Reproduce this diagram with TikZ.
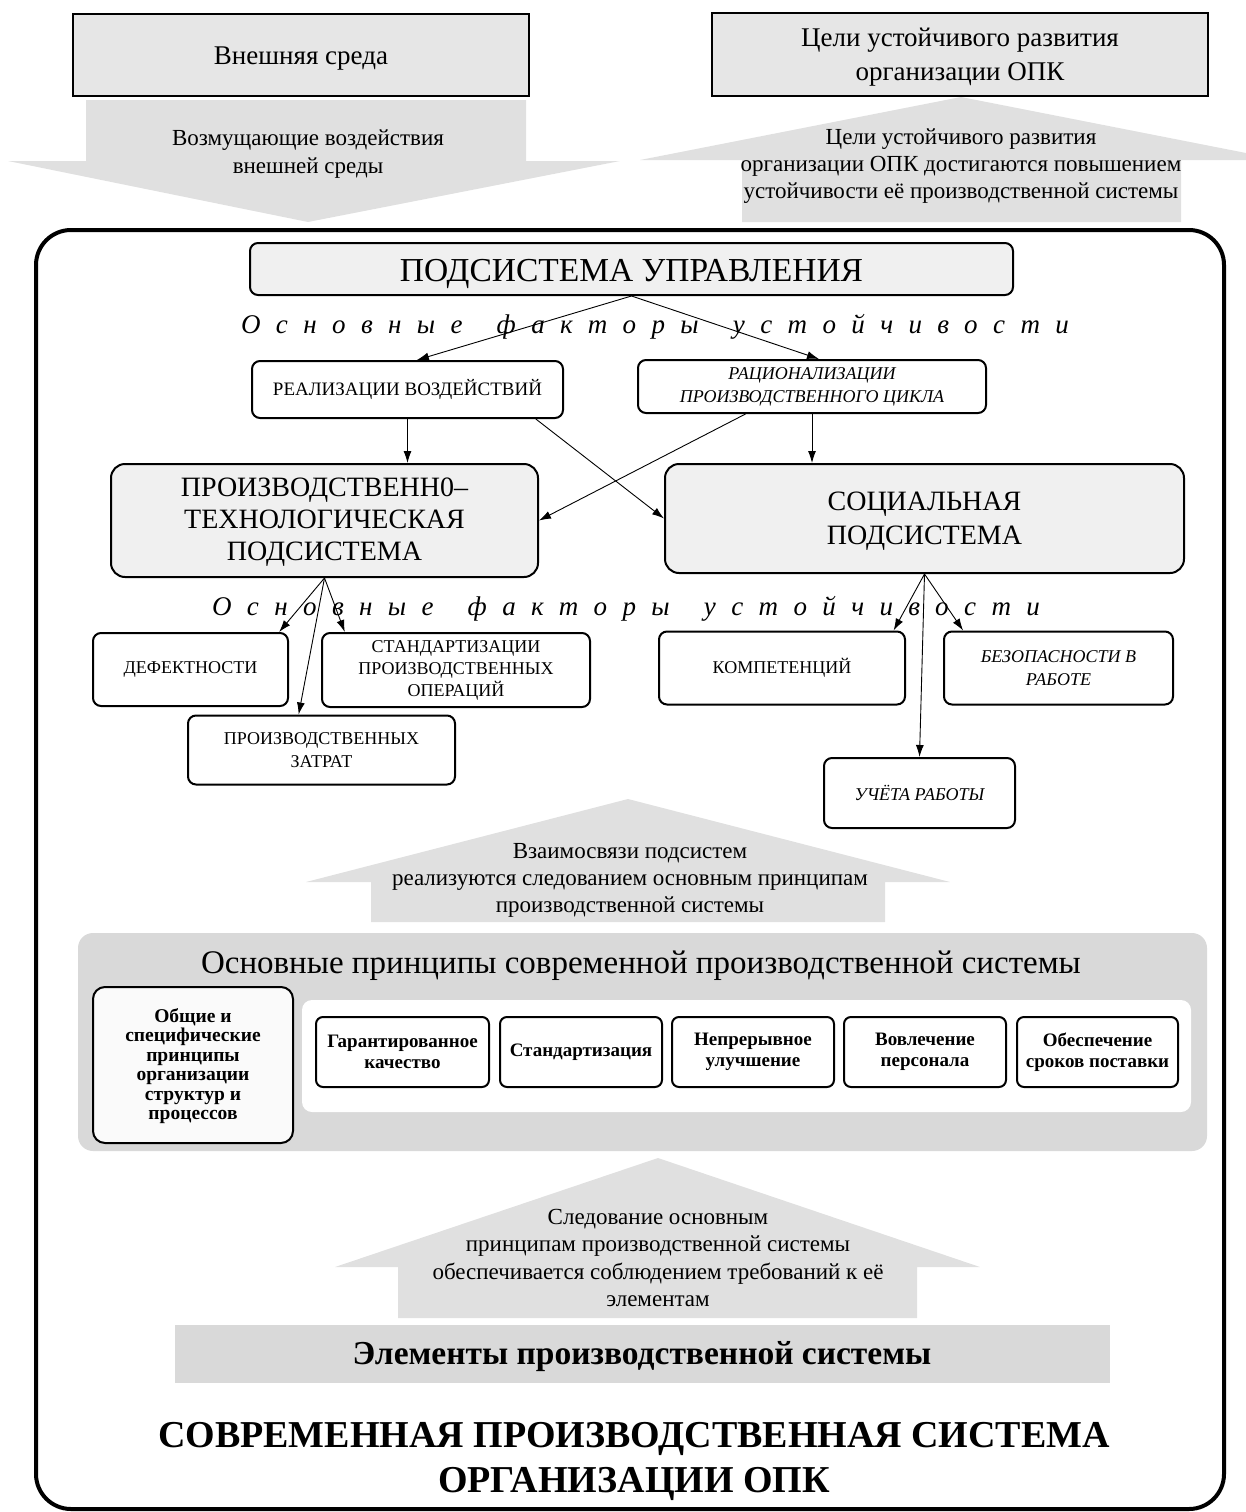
\documentclass[tikz,border=0pt]{standalone}
\usepackage{fontspec}
\setmainfont{Liberation Serif}
\newfontfamily\spacedfont[LetterSpace=57]{Liberation Serif}
\usetikzlibrary{arrows.meta,calc}
\definecolor{arrowgray}{HTML}{E0E0E0}
\definecolor{topgray}{HTML}{E6E6E6}
\definecolor{subgray}{HTML}{F0F0F0}
\definecolor{panelgray}{HTML}{D9D9D9}
\definecolor{leftfill}{HTML}{FAFAFA}
\newcommand{\fsz}[2]{\fontsize{#1pt}{#2pt}\selectfont}
\begin{document}
\begin{tikzpicture}[x=1pt,y=-1pt,
  lbl/.style={align=center, inner sep=0pt},
  topbox/.style={draw=black, line width=2.5pt, fill=topgray, align=center, inner sep=0pt},
  subbox/.style={draw=black, line width=2pt, fill=subgray, rounded corners=14pt, align=center, inner sep=0pt},
  fbox/.style={draw=black, line width=2pt, fill=white, rounded corners=8pt, align=center, inner sep=0pt, font=\fsz{18}{22}},
  pbox/.style={draw=black, line width=2pt, fill=white, rounded corners=7pt, align=center, inner sep=0pt, font=\fsz{19}{21}\bfseries},
  conn/.style={-{Latex[length=12pt,width=8pt]}, line width=0.9pt},
  blockarrow/.style={fill=arrowgray, draw=none},
  spaced/.style={lbl, font=\spacedfont\itshape\fsz{27}{32}}
]
\useasboundingbox (0,0) rectangle (1246,1512);

% ---------- top boxes ----------
\node[topbox, minimum width=456pt, minimum height=82pt] (ext) at (301,55) {};
\node[lbl, font=\fsz{27}{32}] (exttxt) at (ext.center) [yshift=-4pt] {Внешняя среда};
\node[topbox, minimum width=496pt, minimum height=83pt] (goal) at (960,54.5) {};
\node[lbl, font=\fsz{27}{34}] (goaltitle) at (goal.center) [yshift=-3pt] {Цели устойчивого развития\\организации ОПК};

% ---------- top block arrows ----------
\fill[blockarrow] (86,100) -- (526,100) -- (526,161) -- (620,161) -- (308,222) -- (8,161) -- (86,161) -- cycle;
\node[lbl, font=\fsz{23}{28}] (disturb) at (308,154) {Возмущающие воздействия\\внешней среды};
\fill[blockarrow] (742,222) -- (742,160) -- (640,160) -- (961,97) -- (1246,153) -- (1246,160) -- (1181,160) -- (1181,222) -- cycle;
\node[lbl, font=\fsz{23}{27}] (goaltxt) at (961,166) {Цели устойчивого развития\\организации ОПК достигаются повышением\\устойчивости её производственной системы};

% ---------- big frame ----------
\draw[line width=4pt, rounded corners=35pt] (36,230) rectangle (1224,1509);

% ---------- management subsystem ----------
\node[subbox, rounded corners=8pt, minimum width=763pt, minimum height=52pt] (upr) at (631.5,269) {};
\node[lbl, font=\fsz{33.5}{36}] (uprtxt) at (upr.center) [yshift=-5pt] {ПОДСИСТЕМА УПРАВЛЕНИЯ};
\node[spaced] (fact1) at (655,327) {Основные\hspace{12pt} факторы\hspace{12pt} устойчивости};

\node[fbox, minimum width=311pt, minimum height=57pt, font=\fsz{19}{22}] (real) at (407.5,389.5) {РЕАЛИЗАЦИИ ВОЗДЕЙСТВИЙ};
\node[fbox, minimum width=348pt, minimum height=53pt, font=\fsz{18}{23}\itshape] (rac) at (812,386.5) {РАЦИОНАЛИЗАЦИИ\\ПРОИЗВОДСТВЕННОГО ЦИКЛА};

\node[subbox, minimum width=427pt, minimum height=113pt] (pt) at (324.5,520.5) {};
\node[lbl, font=\fsz{28}{32}] (pttxt) at (pt.center) [yshift=-2pt] {ПРОИЗВОДСТВЕНН0–\\ТЕХНОЛОГИЧЕСКАЯ\\ПОДСИСТЕМА};
\node[subbox, minimum width=519pt, minimum height=109pt] (soc) at (924.5,518.5) {};
\node[lbl, font=\fsz{28}{34}] (soctxt) at (soc.center) [yshift=-3pt] {СОЦИАЛЬНАЯ\\ПОДСИСТЕМА};

\draw[conn] (upr.south) -- ($(real.north west)!0.53!(real.north east)$);
\draw[conn] (upr.south) -- ($(rac.north west)!0.52!(rac.north east)$);
\draw[conn] (real.south) -- (real.south |- pt.north);
\draw[conn] ($(real.south west)!0.91!(real.south east)$) -- (soc.west);
\draw[conn] ($(rac.south west)!0.31!(rac.south east)$) -- (pt.east);
\draw[conn] (rac.south) -- (rac.south |- soc.north);

% ---------- second level factors ----------
\node[spaced] (fact2) at (626,609) {Основные\hspace{12pt} факторы\hspace{12pt} устойчивости};

\node[fbox, minimum width=195pt, minimum height=73pt] (def) at (190.5,669.5) {ДЕФЕКТНОСТИ};
\node[fbox, minimum width=268pt, minimum height=74pt] (std) at (456,670) {СТАНДАРТИЗАЦИИ\\ПРОИЗВОДСТВЕННЫХ\\ОПЕРАЦИЙ};
\node[fbox, minimum width=267pt, minimum height=69pt, font=\fsz{18}{23}] (zat) at (321.5,750) {ПРОИЗВОДСТВЕННЫХ\\ЗАТРАТ};
\node[fbox, minimum width=246pt, minimum height=73pt] (komp) at (782,668) {КОМПЕТЕНЦИЙ};
\node[fbox, minimum width=229pt, minimum height=73pt, font=\fsz{18}{23}\itshape] (bez) at (1058.5,668) {БЕЗОПАСНОСТИ В\\РАБОТЕ};
\node[fbox, minimum width=191pt, minimum height=70pt, font=\fsz{18}{23}\itshape] (uch) at (919.5,793) {УЧЁТА РАБОТЫ};

\draw[conn] (pt.south) -- ($(def.north west)!0.95!(def.north east)$);
\draw[conn] (pt.south) -- ($(zat.north west)!0.415!(zat.north east)$);
\draw[conn] (pt.south) -- ($(std.north west)!0.088!(std.north east)$);
\draw[conn] (soc.south) -- ($(komp.north west)!0.95!(komp.north east)$);
\draw[conn] (soc.south) -- (uch.north);
\draw[conn] (soc.south) -- ($(bez.north west)!0.087!(bez.north east)$);

% ---------- middle block arrow ----------
\fill[blockarrow] (371,922) -- (371,882) -- (306,882) -- (628,799) -- (950,882) -- (885,882) -- (885,922) -- cycle;
\node[lbl, font=\fsz{23}{27}] (links) at (630,880) {Взаимосвязи подсистем\\реализуются следованием основным принципам\\производственной системы};

% ---------- principles panel ----------
\fill[panelgray, rounded corners=15pt] (78,933) rectangle (1207,1151);
\node[lbl, font=\fsz{33}{38}] (ptitle) at (641,966) {Основные принципы современной производственной системы};
\fill[white, rounded corners=10pt] (302,1000) rectangle (1191,1112);
\node[draw=black, line width=2pt, fill=leftfill, rounded corners=12pt, align=center, inner sep=0pt,
      minimum width=200pt, minimum height=156pt] (gen) at (193,1065) {};
\node[lbl, font=\fsz{19.5}{19.5}\bfseries] (gentxt) at (gen.center) [yshift=-1pt]
      {Общие и\\специфические\\принципы\\организации\\структур и\\процессов};
\node[pbox, minimum width=173pt, minimum height=70pt] (p1) at (402.5,1052) {Гарантированное\\качество};
\node[pbox, minimum width=162pt, minimum height=70pt] (p2) at (581,1052) {Стандартизация};
\node[pbox, minimum width=162pt, minimum height=70pt] (p3) at (753,1052) {Непрерывное\\улучшение};
\node[pbox, minimum width=162pt, minimum height=70pt] (p4) at (925,1052) {Вовлечение\\персонала};
\node[pbox, minimum width=161pt, minimum height=70pt] (p5) at (1097.5,1052) {Обеспечение\\сроков поставки};

% ---------- bottom block arrow ----------
\fill[blockarrow] (398,1318) -- (398,1267) -- (335,1267) -- (658,1158) -- (980,1267) -- (917,1267) -- (917,1318) -- cycle;
\node[lbl, font=\fsz{23}{27.3}] (follow) at (658,1258) {Следование основным\\принципам производственной системы\\обеспечивается соблюдением требований к её\\элементам};

\fill[panelgray] (175,1325) rectangle (1110,1383);
\node[lbl, font=\fsz{33.5}{36}\bfseries] (elem) at (642,1357) {Элементы производственной системы};

\node[lbl, font=\fsz{38}{45}\bfseries] (title) at (634,1461) {СОВРЕМЕННАЯ ПРОИЗВОДСТВЕННАЯ СИСТЕМА\\ОРГАНИЗАЦИИ ОПК};
\end{tikzpicture}
\end{document}
